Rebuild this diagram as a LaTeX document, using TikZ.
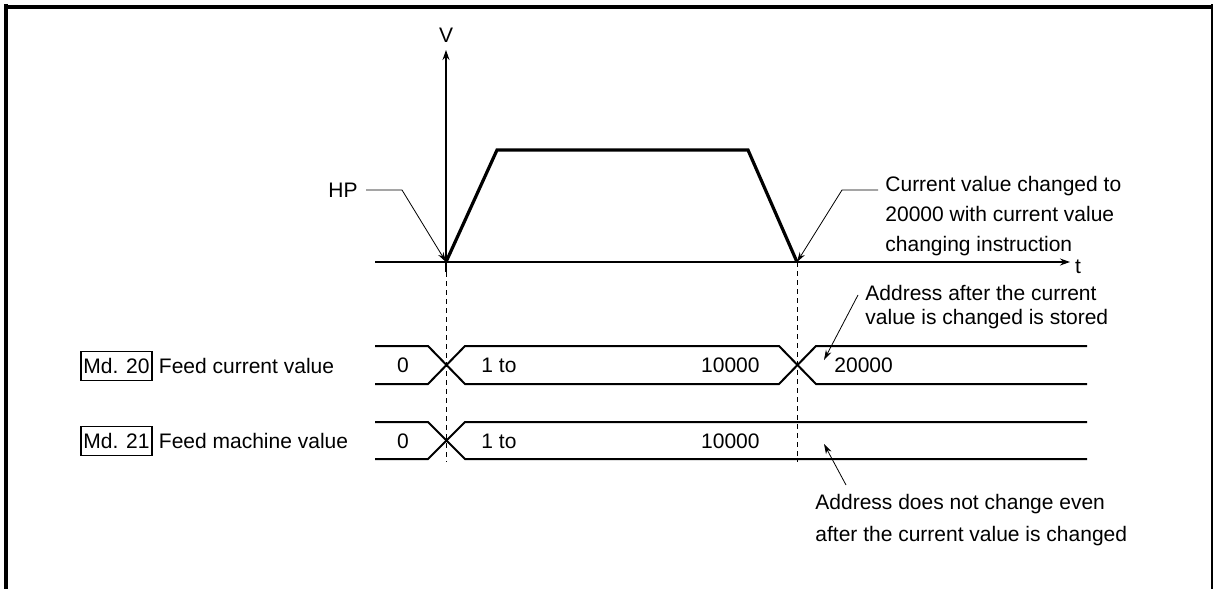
\documentclass[tikz,border=0pt]{standalone}
\usepackage{fontspec}
\setmainfont{Liberation Sans}
\usetikzlibrary{arrows.meta, positioning}

\begin{document}
\begin{tikzpicture}[x=0.5pt, y=-0.5pt,
        every node/.style={font=\fontsize{10.5}{12}\selectfont, inner sep=0pt},
        frame/.style={line width=2pt},
        axis/.style={line width=0.6pt, -{Stealth[length=5pt, width=3.5pt]}},
        profile/.style={line width=1.6pt, line join=miter},
        guide/.style={line width=0.5pt, dash pattern=on 2.5pt off 2pt},
        bus/.style={line width=1pt},
        leader/.style={line width=0.4pt, -{Stealth[length=5pt, width=3pt]}},
        mdbox/.style={draw, line width=0.6pt, inner xsep=1.2pt, minimum height=14.5pt}]
      \useasboundingbox (0,0) rectangle (1214,589);
      % frame
      \draw[frame] (4,7) -- (1213,7);
      \draw[frame] (6,4) -- (6,589);
      \draw[line width=0.7pt] (1212,4) -- (1212,589);
      % axes and speed profile
      \coordinate (O) at (446,262);
      \draw[axis] (446,272) -- (446,50);
      \node (V) at (446,35) {V};
      \draw[axis] (375,262) -- (1070,262);
      \node (t) at (1078,267) {t};
      \draw[profile] (O) -- (497,150) coordinate (acc) -- (748,150) coordinate (dec)
            -- (797,262) coordinate (stop);
      \draw[guide] (446,272) -- (446,462);
      \draw[guide] (stop) -- (797,462);
      % Md. 20 row
      \draw[bus] (375,346) -- (428,346) -- (465,384) -- (779,384) -- (816,346) -- (1087,346);
      \draw[bus] (375,384) -- (428,384) -- (465,346) -- (779,346) -- (816,384) -- (1087,384);
      \node[mdbox] (md20) at (116.5,366) {Md. 20};
      \node[right=3pt of md20] (fcv) {Feed current value};
      \node (cv0) at (403,365) {0};
      \node (cv1) at (499,365) {1 to};
      \node[anchor=east] (cv2) at (760,365) {10000};
      \node[anchor=west] (cv3) at (834,365) {20000};
      % Md. 21 row
      \draw[bus] (375,422) -- (428,422) -- (465,459) -- (1087,459);
      \draw[bus] (375,459) -- (428,459) -- (465,422) -- (1087,422);
      \node[mdbox] (md21) at (116.5,441) {Md. 21};
      \node[right=3pt of md21] (fmv) {Feed machine value};
      \node (mv0) at (403,441) {0};
      \node (mv1) at (499,441) {1 to};
      \node[anchor=east] (mv2) at (760,441) {10000};
      % callouts
      \node[anchor=east, inner xsep=4pt] (hp) at (366,190) {HP};
      \draw[leader] (hp.east) -- ++(36,0) -- (O);
      \node[anchor=north west, align=left, font=\fontsize{10.5}{15}\selectfont] (chg) at (885,175.5)
            {Current value changed to\\20000 with current value\\changing instruction};
      \coordinate (chgA) at (878,190);
      \draw[leader] (chgA) -- ++(-36,0) -- (stop);
      \node[anchor=north west, align=left] (stored) at (865,284.5)
            {Address after the current\\value is changed is stored};
      \coordinate (storedA) at (858,295);
      \coordinate (storedB) at (824,360);
      \draw[leader] (storedA) -- (storedB);
      \node[anchor=north west, align=left, font=\fontsize{10.5}{16}\selectfont] (keep) at (815,493.5)
            {Address does not change even\\after the current value is changed};
      \coordinate (keepA) at (846,485);
      \coordinate (keepB) at (824,444);
      \draw[leader] (keepA) -- (keepB);
    \end{tikzpicture}
\end{document}
